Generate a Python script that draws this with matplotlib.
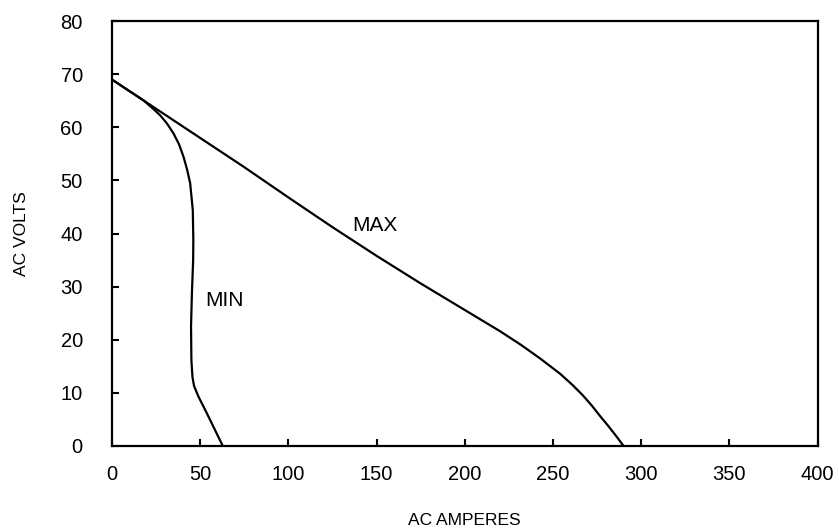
import matplotlib.pyplot as plt

plt.rcParams['font.family'] = ['Liberation Sans', 'DejaVu Sans']

# MAX curve (AC amperes, AC volts)
max_amps = [0, 25, 50, 75, 100, 125, 150, 175, 200, 220, 232, 243, 254, 261, 267, 272, 277, 281, 285.5, 290]
max_volts = [69, 63.5, 58, 52.5, 46.8, 41.2, 35.8, 30.6, 25.6, 21.6, 19.0, 16.4, 13.6, 11.5, 9.5, 7.6, 5.5, 3.9, 2.0, 0]

# MIN curve
min_amps = [0, 10, 17.8, 23, 27.2, 31, 34.8, 38, 40.5, 42.6, 44.3, 45.8, 46.1, 46, 45.3,
            44.8, 45, 45.6, 46.5, 49, 53.7, 62.8]
min_volts = [69, 66.8, 65.1, 63.6, 62.3, 60.8, 58.9, 56.8, 54.5, 52, 49.5, 44.4, 38.8, 35, 28.8,
             22.5, 16.2, 13, 11.3, 9.3, 6.2, 0]

xticks = [0, 50, 100, 150, 200, 250, 300, 350, 400]
yticks = [0, 10, 20, 30, 40, 50, 60, 70, 80]

fig = plt.figure(figsize=(8.39, 5.29), dpi=100)
ax = fig.add_axes([0.1335, 0.157, 0.841, 0.803])

ax.plot(max_amps, max_volts, color='black', linewidth=1.6)
ax.plot(min_amps, min_volts, color='black', linewidth=1.6)

ax.text(136, 41.6, 'MAX', fontsize=15, va='center', ha='left')
ax.text(52.7, 27.4, 'MIN', fontsize=15, va='center', ha='left')

ax.set_xlim(0, 400)
ax.set_ylim(0, 80)
ax.set_xticks(xticks)
ax.set_yticks(yticks)
ax.tick_params(direction='in', length=5, width=1.5, labelsize=14.5)
ax.tick_params(axis='x', pad=13.7)
ax.tick_params(axis='y', pad=21)
for s in ax.spines.values():
    s.set_linewidth(1.6)

ax.set_xlabel('AC AMPERES', fontsize=12.5)
ax.set_ylabel('AC VOLTS', fontsize=12.5)
ax.xaxis.set_label_coords(0.5, -0.158)
ax.yaxis.set_label_coords(-0.118, 0.5)

plt.savefig('out.png', dpi=100)
